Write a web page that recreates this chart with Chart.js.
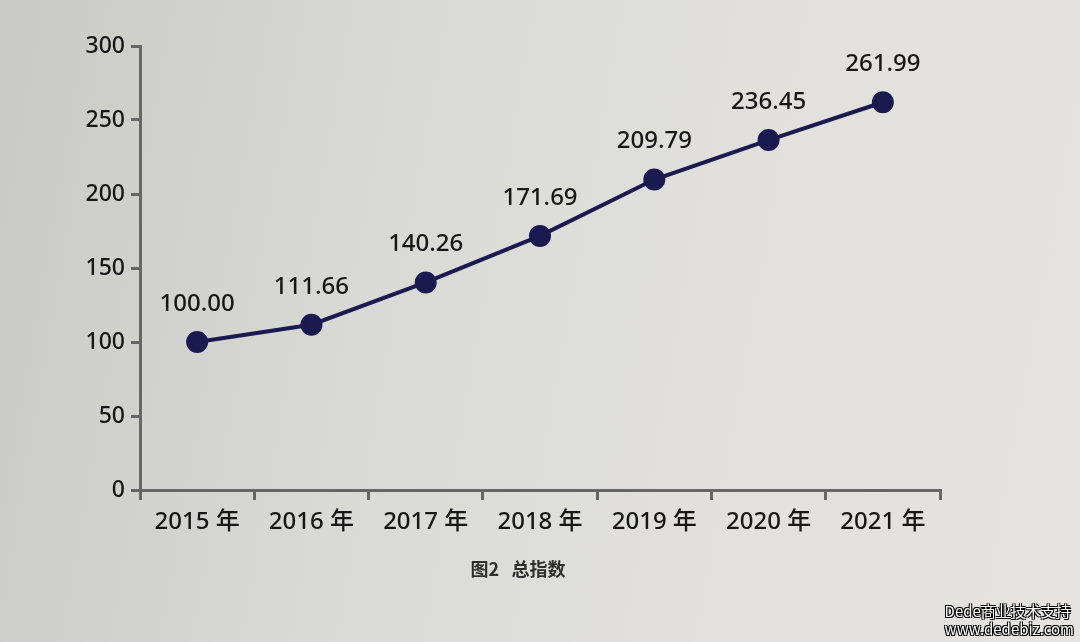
<!DOCTYPE html>
<html>
<head>
<meta charset="utf-8">
<script src="https://cdn.jsdelivr.net/npm/chart.js@4"></script>
<style>
  html, body { margin: 0; padding: 0; }
  body {
    width: 1080px; height: 642px; overflow: hidden; position: relative;
    background: linear-gradient(100deg, #c9cac6 0%, #d9dad6 35%, #e2e1dd 70%, #e4e3df 100%);
    font-family: "Noto Sans", "Noto Sans CJK SC", sans-serif;
  }
  #chart { position: absolute; left: 0; top: 0; }
  #caption {
    position: absolute; left: 0; width: 1036px; top: 555px; text-align: center;
    font-family: "Noto Sans CJK SC", sans-serif; font-size: 18px; font-weight: bold; color: #2e2e2e;
  }
  #mark {
    position: absolute; right: 6px; top: 602px; text-align: left; line-height: 18px;
    font-family: "Noto Sans CJK SC", sans-serif; font-size: 15px; color: #fff;
    text-shadow: -1px -1px 0 #000, 1px -1px 0 #000, -1px 1px 0 #000, 1px 1px 0 #000;
  }
</style>
</head>
<body>
<canvas id="chart" width="1080" height="642"></canvas>
<div id="caption">图2&nbsp;&nbsp;&nbsp;总指数</div>
<div id="mark">Dede商业技术支持<br>www.dedebiz.com</div>
<script>
(function () {
  var anos = ['2015 年', '2016 年', '2017 年', '2018 年', '2019 年', '2020 年', '2021 年'];
  var indice = [100.00, 111.66, 140.26, 171.69, 209.79, 236.45, 261.99];
  var yTicks = [0, 50, 100, 150, 200, 250, 300];

  var fonte = '"Noto Sans", "Noto Sans CJK SC", sans-serif';
  var corLinha = '#1a1a50';
  var corEixo = '#666666';
  var corTexto = '#161616';

  // rotulos de valor acima de cada ponto
  var rotulos = {
    id: 'rotulos',
    afterDatasetsDraw: function (chart) {
      var ctx = chart.ctx;
      var meta = chart.getDatasetMeta(0);
      ctx.save();
      ctx.font = '500 24px ' + fonte;
      ctx.fillStyle = corTexto;
      ctx.textAlign = 'center';
      ctx.textBaseline = 'middle';
      meta.data.forEach(function (p, i) {
        ctx.fillText(indice[i].toFixed(2), p.x, p.y - 38);
      });
      ctx.restore();
    }
  };

  new Chart(document.getElementById('chart').getContext('2d'), {
    type: 'line',
    data: {
      labels: anos,
      datasets: [{
        data: indice,
        borderColor: corLinha,
        backgroundColor: corLinha,
        borderWidth: 4,
        pointRadius: 9,
        pointBackgroundColor: corLinha,
        pointBorderColor: corLinha,
        tension: 0,
        fill: false
      }]
    },
    options: {
      responsive: false,
      animation: false,
      layout: { padding: { left: 0, right: 140, top: 46, bottom: 92 } },
      plugins: { legend: { display: false }, tooltip: { enabled: false } },
      scales: {
        x: {
          offset: true,
          afterFit: function (s) { s.height = 60; },
          grid: { offset: true, drawOnChartArea: false, drawTicks: true, tickLength: 10, color: corEixo, lineWidth: 3 },
          border: { display: true, color: corEixo, width: 3 },
          ticks: { color: corTexto, font: { size: 24, weight: '500', family: fonte }, padding: 8, maxRotation: 0 }
        },
        y: {
          min: 0, max: 300,
          afterFit: function (s) { s.width = 140; },
          afterBuildTicks: function (s) { s.ticks = yTicks.map(function (v) { return { value: v }; }); },
          grid: { drawOnChartArea: false, drawTicks: true, tickLength: 9, color: corEixo, lineWidth: 3 },
          border: { display: true, color: corEixo, width: 3 },
          ticks: { color: corTexto, font: { size: 23, weight: '500', family: fonte }, padding: 6 }
        }
      }
    },
    plugins: [rotulos]
  });
})();
</script>
</body>
</html>
